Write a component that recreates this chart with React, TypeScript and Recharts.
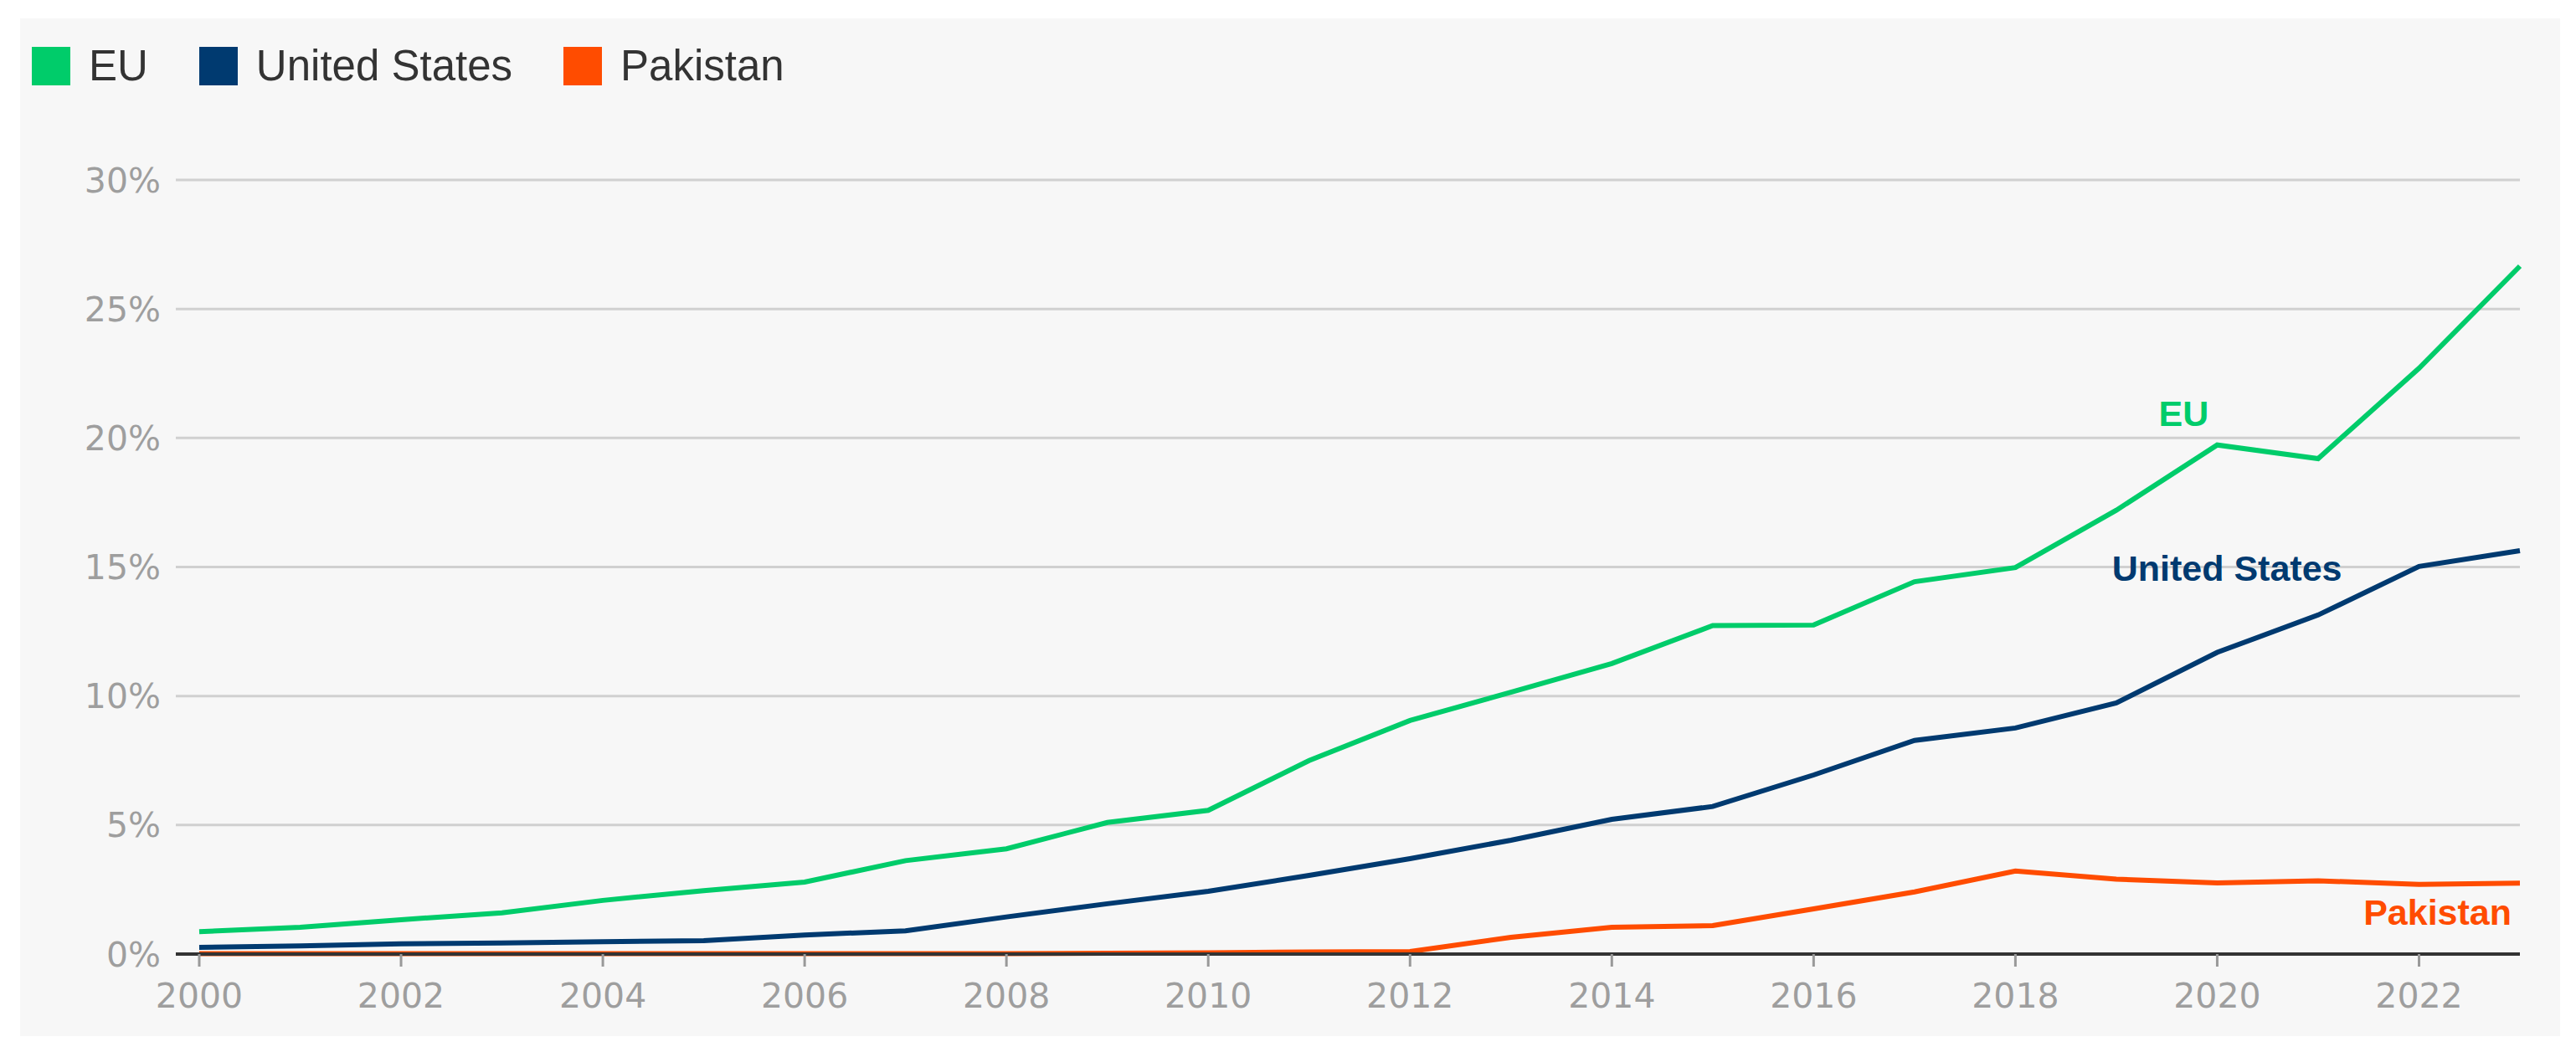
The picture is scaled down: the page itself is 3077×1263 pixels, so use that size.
import React from 'react'
import { CartesianGrid, LabelList, Legend, Line, LineChart, XAxis, YAxis } from 'recharts'

// share of electricity, %
const years = [2000, 2001, 2002, 2003, 2004, 2005, 2006, 2007, 2008, 2009, 2010, 2011, 2012, 2013, 2014, 2015, 2016, 2017, 2018, 2019, 2020, 2021, 2022, 2023]
const euValues = [0.87, 1.04, 1.33, 1.6, 2.08, 2.46, 2.79, 3.62, 4.08, 5.1, 5.57, 7.5, 9.05, 10.15, 11.26, 12.73, 12.75, 14.43, 14.98, 17.2, 19.73, 19.2, 22.7, 26.66]
const usValues = [0.26, 0.32, 0.4, 0.43, 0.48, 0.52, 0.74, 0.9, 1.44, 1.95, 2.43, 3.05, 3.7, 4.41, 5.22, 5.72, 6.94, 8.28, 8.76, 9.73, 11.69, 13.14, 15.02, 15.63]
const pkValues = [0.02, 0.02, 0.02, 0.02, 0.02, 0.02, 0.02, 0.02, 0.02, 0.03, 0.05, 0.08, 0.1, 0.65, 1.04, 1.1, 1.75, 2.41, 3.22, 2.9, 2.76, 2.84, 2.7, 2.75]

const seriesNames = ['EU', 'United States', 'Pakistan']
const xTicks = [2000, 2002, 2004, 2006, 2008, 2010, 2012, 2014, 2016, 2018, 2020, 2022]
const yTicks = [0, 5, 10, 15, 20, 25, 30]

const GREEN = '#00cc6a'
const NAVY = '#003a70'
const ORANGE = '#ff4c00'

const data = years.map((year, i) => ({ year, eu: euValues[i], us: usValues[i], pk: pkValues[i] }))

const tickFont = { fontFamily: 'DejaVu Sans', fontSize: 41, fill: '#9e9e9e' }

// draws the series name next to one chosen point of the line
const seriesLabel = (text: string, color: string, at: number, dx: number, dy: number, anchor: 'start' | 'middle' | 'end') =>
  (props: any) => {
    if (props.index !== at) return null
    return (
      <text
        x={Number(props.x) + dx}
        y={Number(props.y) + dy}
        textAnchor={anchor}
        fill={color}
        fontFamily="Liberation Sans"
        fontWeight={700}
        fontSize={43}
      >
        {text}
      </text>
    )
  }

function LegendRow({ payload }: any) {
  const items = [...(payload ?? [])].sort((a: any, b: any) => seriesNames.indexOf(a.value) - seriesNames.indexOf(b.value))
  return (
    <div style={{ display: 'flex', alignItems: 'center', fontFamily: 'Liberation Sans', fontSize: 51, color: '#333' }}>
      {items.map((p: any) => (
        <div key={p.value} style={{ display: 'flex', alignItems: 'center', marginRight: 61 }}>
          <span style={{ width: 46, height: 46, background: p.color, marginRight: 22, display: 'inline-block' }} />
          <span style={{ lineHeight: '46px' }}>{p.value}</span>
        </div>
      ))}
    </div>
  )
}

export default function App() {
  return (
    <div style={{ padding: '14px 0 0 16px' }}>
      <div style={{ width: 3034, height: 1216, background: '#f7f7f7' }}>
        <LineChart width={3034} height={1216} data={data} margin={{ top: 193, right: 48, left: 0, bottom: 0 }}>
          <CartesianGrid vertical={false} stroke="#d0d0d0" strokeWidth={3} />
          <XAxis
            dataKey="year"
            type="number"
            domain={[2000, 2023]}
            ticks={xTicks}
            padding={{ left: 28, right: 0 }}
            height={98}
            tick={tickFont}
            tickSize={15}
            tickMargin={20}
            axisLine={{ stroke: '#333', strokeWidth: 4 }}
            tickLine={{ stroke: '#999', strokeWidth: 3 }}
          />
          <YAxis
            domain={[0, 30]}
            ticks={yTicks}
            width={186}
            tick={tickFont}
            tickMargin={12}
            axisLine={false}
            tickLine={false}
            tickFormatter={(v) => `${v}%`}
          />
          <Legend
            layout="horizontal"
            verticalAlign="middle"
            align="center"
            content={<LegendRow />}
            wrapperStyle={{ top: 34, left: 14, width: 'auto' }}
          />
          <Line name={seriesNames[0]} dataKey="eu" type="linear" stroke={GREEN} strokeWidth={6} dot={false} isAnimationActive={false}>
            <LabelList dataKey="eu" content={seriesLabel('EU', GREEN, 20, -40, -23, 'middle')} />
          </Line>
          <Line name={seriesNames[1]} dataKey="us" type="linear" stroke={NAVY} strokeWidth={6} dot={false} isAnimationActive={false}>
            <LabelList dataKey="us" content={seriesLabel('United States', NAVY, 22, -92, 17, 'end')} />
          </Line>
          <Line name={seriesNames[2]} dataKey="pk" type="linear" stroke={ORANGE} strokeWidth={6} dot={false} isAnimationActive={false}>
            <LabelList dataKey="pk" content={seriesLabel('Pakistan', ORANGE, 23, -10, 50, 'end')} />
          </Line>
        </LineChart>
      </div>
    </div>
  )
}
